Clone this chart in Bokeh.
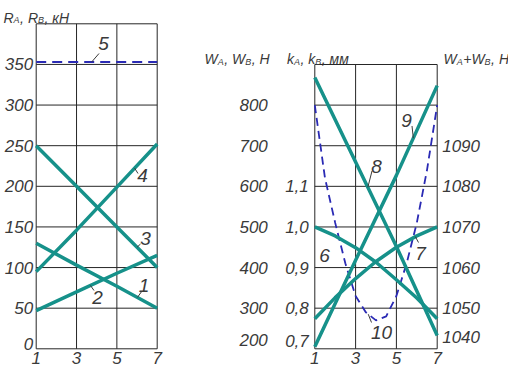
import numpy as np
from bokeh.plotting import figure
from bokeh.layouts import row
from bokeh.models import Range1d, LinearAxis, FixedTicker, Label
from bokeh.embed import file_html
from bokeh.resources import INLINE

# ---------------- data ----------------
x_pos = [1, 3, 5, 7]
x_labels = ["1", "3", "5", "7"]

# left panel: R_A, R_B, kN
R1 = [130, 103, 77, 50]
R2 = [47, 70, 93, 115]
R3 = [250, 200, 150, 100]
R4 = [95, 146, 199, 252]
R5_x = [1, 7]
R5 = [353, 353]
R_ticks = [0, 50, 100, 150, 200, 250, 300, 350]
R_tick_labels = ["0", "50", "100", "150", "200", "250", "300", "350"]

# right panel
W8 = [868, 660, 452, 233]          # W, H
W9 = [205, 418, 627, 848]          # W, H
k_x = [1, 2, 3, 4, 5, 6, 7]
k6 = [1.000, 0.978, 0.949, 0.913, 0.870, 0.825, 0.774]   # k, mm
k7 = [0.774, 0.826, 0.873, 0.915, 0.950, 0.978, 1.000]   # k, mm
s_x = [1, 1.5, 2, 2.5, 3, 3.5, 4, 4.5, 5, 5.5, 6, 6.5, 7]
s10 = [1100, 1082, 1071, 1061, 1053, 1049, 1047, 1048, 1053, 1061, 1071, 1084, 1100]  # W_A+W_B, H
W_ticks = [200, 300, 400, 500, 600, 700, 800]
W_tick_labels = ["200", "300", "400", "500", "600", "700", "800"]
k_ticks = [0.7, 0.8, 0.9, 1.0, 1.1]
k_tick_labels = ["0,7", "0,8", "0,9", "1,0", "1,1"]
s_ticks = [1040, 1050, 1060, 1070, 1080, 1090]
s_tick_labels = ["1040", "1050", "1060", "1070", "1080", "1090"]

# ---------------- style / geometry ----------------
TEAL = "#16918a"
BLUE = "#2a2ab4"
INK = "#262626"
TXT = "#3a3a3a"
FONT = "Liberation Sans"
H = 373

X_RNG = (1, 7)
R_RNG = (0, 400)
W_RNG = (200, 900)
K_RNG = (0.7, 1.4)
S_RNG = (1040, 1110)

# drawing boxes in page pixels: (left, right, top, bottom)
L_BOX = (35.7, 156.7, 23.3, 348.3)
L_OFF, L_W = 0, 200
R_BOX = (314.3, 436.7, 64.0, 348.3)
R_OFF, R_W = 200, 308

# approximate advance widths (em) for title layout
ADV = {"W": 0.944, "R": 0.722, "k": 0.5, "А": 0.667, "В": 0.667, ",": 0.278,
       "+": 0.584, "Н": 0.722, "к": 0.45, "м": 0.58, " ": 0.278}


def x_range_for(box, off, width):
    l, r = box[0] - off, box[1] - off
    u = (X_RNG[1] - X_RNG[0]) / (r - l)
    return Range1d(X_RNG[0] - l * u, X_RNG[1] + (width - r) * u)


def y_range_for(rng, box):
    t, b = box[2], box[3]
    u = (rng[1] - rng[0]) / (b - t)
    return Range1d(rng[0] - (H - b) * u, rng[1] + t * u)


def px_to_x(px, box):
    return X_RNG[0] + (px - box[0]) * (X_RNG[1] - X_RNG[0]) / (box[1] - box[0])


def py_to_y(py, box, rng):
    return rng[0] + (box[3] - py) * (rng[1] - rng[0]) / (box[3] - box[2])


def style_axis(ax, standoff):
    ax.axis_line_color = None
    ax.major_tick_line_color = None
    ax.minor_tick_line_color = None
    ax.major_tick_out = 0
    ax.major_tick_in = 0
    ax.major_label_standoff = standoff
    ax.major_label_text_font = FONT
    ax.major_label_text_font_style = "italic"
    ax.major_label_text_font_size = "17px"
    ax.major_label_text_color = TXT


def make_axis(ticks, labels, standoff, lift=0.0, **kw):
    pos = [t + (lift if i == 0 else 0) for i, t in enumerate(ticks)]
    ax = LinearAxis(ticker=FixedTicker(ticks=pos),
                    major_label_overrides={p: l for p, l in zip(pos, labels)}, **kw)
    style_axis(ax, standoff)
    return ax


def base_fig(width, box, off, yrng):
    p = figure(width=width, height=H, x_range=x_range_for(box, off, width),
               y_range=y_range_for(yrng, box),
               x_axis_location=None, y_axis_location=None, toolbar_location=None,
               output_backend="svg", min_border=0)
    p.outline_line_color = None
    p.background_fill_color = "white"
    p.border_fill_color = "white"
    for g in p.grid:
        g.visible = False
    return p


def draw_grid(p, xt, yt, yrng):
    xs, ys = [], []
    for t in xt:
        xs.append([t, t]); ys.append([yrng[0], yrng[1]])
    for t in yt:
        xs.append([X_RNG[0], X_RNG[1]]); ys.append([t, t])
    p.multi_line(xs, ys, line_color=INK, line_width=1)


def add_text(p, x, y, text, size="18px", align="center", baseline="middle", **kw):
    p.add_layout(Label(x=x, y=y, text=text, text_font=FONT, text_font_style="italic",
                       text_font_size=size, text_color=TXT, text_align=align,
                       text_baseline=baseline, **kw))


def add_title(p, fx, fy, pieces, base_py, main=14.0, sub=9.0):
    cur = -1e9
    for txt, px, is_sub in pieces:
        size = sub if is_sub else main
        x = max(px, cur)
        add_text(p, fx(x), fy(base_py + (2.5 if is_sub else 0)), txt,
                 size=f"{size}px", align="left", baseline="alphabetic")
        cur = x + sum(ADV.get(c, 0.6) for c in txt) * size + (0.5 if is_sub else 0)


# ---------------- left panel ----------------
pL = base_fig(L_W, L_BOX, L_OFF, R_RNG)


def Lx(px):
    return px_to_x(px, L_BOX)


def Ly(py):
    return py_to_y(py, L_BOX, R_RNG)


draw_grid(pL, [X_RNG[0]] + x_pos[1:-1] + [X_RNG[1]], R_ticks + [R_RNG[1]], R_RNG)
pL.add_layout(make_axis(R_ticks, R_tick_labels, 3, lift=6, fixed_location=X_RNG[0]), "left")
pL.add_layout(make_axis(x_pos, x_labels, 3, fixed_location=R_RNG[0]), "below")

for ys in (R1, R2, R3, R4):
    pL.line(x_pos, ys, line_color=TEAL, line_width=3.5)
pL.line(R5_x, R5, line_color=BLUE, line_width=2, line_dash="10 6")

for txt, lpx, lpy, sx, sy, ex, series, sxs in [
    ("5", 103, 43, 98.5, 53, 3.75, R5, R5_x),
    ("4", 142, 175, 137.5, 173, 5.88, R4, x_pos),
    ("3", 145, 238, 140, 243.5, 6.0, R3, x_pos),
    ("1", 143.5, 285, 141.5, 290.5, 6.02, R1, x_pos),
    ("2", 97, 297, 93.5, 290, 3.69, R2, x_pos),
]:
    add_text(pL, Lx(lpx), Ly(lpy), txt, size="19px")
    pL.segment(x0=[Lx(sx)], y0=[Ly(sy)], x1=[ex], y1=[float(np.interp(ex, sxs, series))],
               line_color=TXT, line_width=1)

add_title(pL, Lx, Ly, [("R", 3.0, False), ("А", 9.6, True), (", ", 13.8, False),
                       ("R", 21.0, False), ("В", 28.0, True), (", ", 32.2, False),
                       ("кН", 42.5, False)], 17.0)

# ---------------- right panel ----------------
pR = base_fig(R_W, R_BOX, R_OFF, W_RNG)
pR.extra_y_ranges = {"k": y_range_for(K_RNG, R_BOX), "s": y_range_for(S_RNG, R_BOX)}


def Rx(px):
    return px_to_x(px, R_BOX)


def Ry(py, rng=W_RNG):
    return py_to_y(py, R_BOX, rng)


draw_grid(pR, [X_RNG[0]] + x_pos[1:-1] + [X_RNG[1]], W_ticks + [W_RNG[1]], W_RNG)
pR.add_layout(make_axis(k_ticks, k_tick_labels, 6, lift=0.02, y_range_name="k",
                        fixed_location=X_RNG[0]), "left")
pR.add_layout(make_axis(W_ticks, W_tick_labels, 47, lift=22, fixed_location=X_RNG[0]), "left")
pR.add_layout(make_axis(s_ticks, s_tick_labels, 5, lift=3, y_range_name="s",
                        fixed_location=X_RNG[1]), "right")
pR.add_layout(make_axis(x_pos, x_labels, 3, fixed_location=W_RNG[0]), "below")

pR.line(s_x, s10, y_range_name="s", line_color=BLUE, line_width=1.8, line_dash="8 5")
pR.line(x_pos, W8, line_color=TEAL, line_width=3.5)
pR.line(x_pos, W9, line_color=TEAL, line_width=3.5)
pR.line(k_x, k6, y_range_name="k", line_color=TEAL, line_width=3.5)
pR.line(k_x, k7, y_range_name="k", line_color=TEAL, line_width=3.5)

add_text(pR, Rx(324), Ry(255), "6", size="19px")
for txt, lpx, lpy, sx, sy, ex, series, sxs, rng, rname in [
    ("8", 376, 166, 371.5, 170.5, 3.6, W8, x_pos, W_RNG, "default"),
    ("9", 406, 120, 411.5, 125.5, 5.83, W9, x_pos, W_RNG, "default"),
    ("7", 420, 253, 418, 242, 5.93, k7, k_x, K_RNG, "k"),
    ("10", 381, 332, 371, 322, 3.62, s10, s_x, S_RNG, "s"),
]:
    add_text(pR, Rx(lpx), Ry(lpy), txt, size="19px")
    pR.segment(x0=[Rx(sx)], y0=[Ry(sy, rng)], x1=[ex], y1=[float(np.interp(ex, sxs, series))],
               y_range_name=rname, line_color=TXT, line_width=1)

add_title(pR, Rx, Ry, [("W", 204, False), ("А", 213.6, True), (", ", 218.5, False),
                       ("W", 230, False), ("В", 237.2, True), (", ", 242.3, False),
                       ("Н", 256, False)], 58.5)
add_title(pR, Rx, Ry, [("k", 286.5, False), ("А", 292.3, True), (", ", 296.5, False),
                       ("k", 300.7, False), ("В", 305.6, True), (", ", 310.0, False),
                       ("мм", 316.5, False)], 58.5)
add_title(pR, Rx, Ry, [("W", 443, False), ("А", 453.5, True), ("+", 456.5, False),
                       ("W", 461.7, False), ("В", 470.2, True), (", ", 475.0, False),
                       ("Н", 486.0, False)], 58.5)

layout = row(pL, pR)
open("out.html", "w").write(file_html(layout, INLINE))
